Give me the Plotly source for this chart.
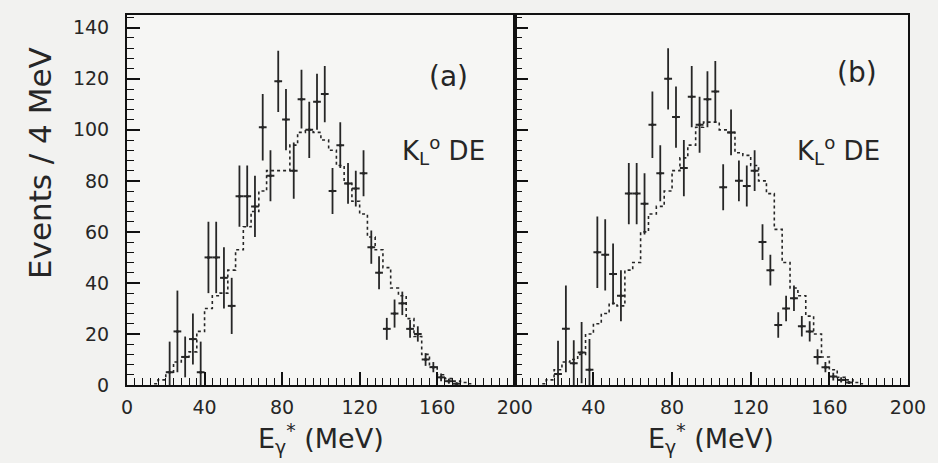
import plotly.graph_objects as go

# ---- data ----
centres = [22, 26, 30, 34, 38, 42, 46, 50, 54, 58, 62, 66, 70, 74, 78, 82, 86, 90, 94, 98,
           102, 106, 110, 114, 118, 122, 126, 130, 134, 138, 142, 146, 150, 154, 158, 162, 166, 170]

a_counts = [5, 21, 11, 18, 5, 50, 50, 42, 31, 74, 74, 70, 101, 82, 119, 104, 84, 112, 100, 111,
            114, 76, 94, 79, 77, 83, 54, 44, 22, 28, 32, 22, 20, 10, 7, 3, 1.5, 0.5]
a_err = [12, 16, 8, 10, 12, 14, 14, 12, 11, 12, 12, 12, 13, 10, 12, 12, 11, 11.5, 11, 11,
         11, 9, 9, 8, 7, 9, 6.5, 6.5, 4.3, 5.5, 4.6, 3.5, 3, 2.5, 2, 1.5, 1, 0.5]

b_counts = [4.3, 22, 8.5, 12.7, 6, 52, 51, 43.5, 35, 75, 75, 71, 102, 83, 120, 105, 85, 113, 102, 112,
            115, 77.5, 99, 80, 78, 84, 56, 45, 23.5, 30, 34, 23, 21, 11, 7, 3.3, 2, 1]
b_err = [13, 17, 9, 12, 12, 14, 14, 12, 10, 12, 12, 12, 13, 11, 12, 12, 11, 12, 11, 11,
         12, 9, 9, 8, 8, 8, 7, 6, 5, 5, 5, 4, 4, 3, 2, 1.5, 1, 0.5]

hist_centres = [14, 18, 22, 26, 30, 34, 38, 42, 46, 50, 54, 58, 62, 66, 70, 74, 78, 82, 86, 90, 94,
                98, 102, 106, 110, 114, 118, 122, 126, 130, 134, 138, 142, 146, 150, 154, 158,
                162, 166, 170, 174, 178]
a_hist = [0.5, 2, 5, 9, 11, 13, 21, 30, 35, 36, 45, 53, 62, 68, 76, 84, 84, 84, 94, 99, 100,
          99, 96, 92, 86, 79, 72, 67, 58, 53, 46, 38, 35, 26, 19, 12, 7, 4, 2.5, 1.5, 1, 0.5]
b_hist = [0.5, 2, 6, 9, 10, 12, 20, 24, 28, 32, 31, 45, 48, 60, 67, 70, 76, 84, 89, 94, 101,
          103, 103, 100, 99, 91, 90, 86, 80, 75, 61, 48, 38, 35, 27, 20, 11, 6, 3, 2, 1, 0.5]

bin_half = 2
panel_labels = ["(a)", "(b)"]
sample_label = "K<sub>L</sub><sup>o</sup> DE"
x_title = "E<sub>γ</sub><sup>*</sup> (MeV)"
y_title = "Events / 4 MeV"

INK = "#262626"
FONT = "DejaVu Sans"

fig = go.Figure()

for i, (cnt, err, hist) in enumerate([(a_counts, a_err, a_hist), (b_counts, b_err, b_hist)]):
    xa = "x" if i == 0 else "x2"
    ya = "y" if i == 0 else "y2"
    fig.add_trace(go.Scatter(
        x=hist_centres, y=hist, mode="lines", line=dict(shape="hvh", dash="dot", width=1.6, color=INK),
        xaxis=xa, yaxis=ya, hoverinfo="skip", showlegend=False))
    fig.add_trace(go.Scatter(
        x=centres, y=cnt, mode="markers", marker=dict(size=3, color=INK),
        error_y=dict(type="data", array=err, width=0, thickness=1.8, color=INK),
        error_x=dict(type="constant", value=bin_half, width=0, thickness=2, color=INK),
        xaxis=xa, yaxis=ya, showlegend=False))

split = 0.4965
axis_common = dict(showline=True, linecolor="#111", linewidth=2, mirror=True,
                   showgrid=False, zeroline=False, ticks="inside", tickcolor="#111",
                   tickwidth=1.6, tickfont=dict(family=FONT, size=19, color=INK))
minor_ticks = dict(dtick=4, ticklen=7, ticks="inside", tickcolor="#111", tickwidth=1.4)

fig.update_layout(
    width=938, height=463,
    margin=dict(l=127, r=30, t=15, b=78),
    paper_bgcolor="#f2f2f0", plot_bgcolor="#f6f6f4",
    font=dict(family=FONT, color=INK),
    xaxis=dict(domain=[0, split], range=[0, 200], tickvals=[0, 40, 80, 120, 160, 200],
               ticklen=13, minor=minor_ticks, ticklabelstandoff=4, **axis_common),
    xaxis2=dict(domain=[split, 1], range=[0, 200], tickvals=[40, 80, 120, 160, 200],
                ticklen=13, minor=minor_ticks, ticklabelstandoff=4, anchor="y2", **axis_common),
    yaxis=dict(range=[0, 145], tickvals=[0, 20, 40, 60, 80, 100, 120, 140], ticklen=13,
               minor=minor_ticks, ticklabelstandoff=12, **axis_common),
    yaxis2=dict(range=[0, 145], tickvals=[0, 20, 40, 60, 80, 100, 120, 140], ticklen=13,
                minor=minor_ticks, showticklabels=False, anchor="x2", **axis_common),
)

W = 781.0
H = 370.0
def px(xp):
    return (xp - 127) / W
def py(yp):
    return (385 - yp) / H

for text, xp, yp in [(panel_labels[0], 448, 76), (panel_labels[1], 857, 72)]:
    fig.add_annotation(text=text, x=px(xp), y=py(yp), xref="paper", yref="paper",
                       showarrow=False, xanchor="center", yanchor="middle",
                       font=dict(family=FONT, size=28, color=INK))

for xp in (400, 795):
    fig.add_annotation(text=sample_label, x=px(xp), y=py(150), xref="paper", yref="paper",
                       showarrow=False, xanchor="left", yanchor="middle",
                       font=dict(family=FONT, size=26, color=INK))

for xc in (321, 711):
    fig.add_annotation(text=x_title, x=px(xc), y=py(438), xref="paper", yref="paper",
                       showarrow=False, xanchor="center", yanchor="middle",
                       font=dict(family=FONT, size=27, color=INK))

fig.add_annotation(text=y_title, x=px(40), y=py(163), xref="paper", yref="paper",
                   showarrow=False, textangle=-90, xanchor="center", yanchor="middle",
                   font=dict(family=FONT, size=31, color=INK))

fig.write_html("out.html", config={"displayModeBar": False},
               post_script="document.body.style.margin='0';document.body.style.overflow='hidden';")
